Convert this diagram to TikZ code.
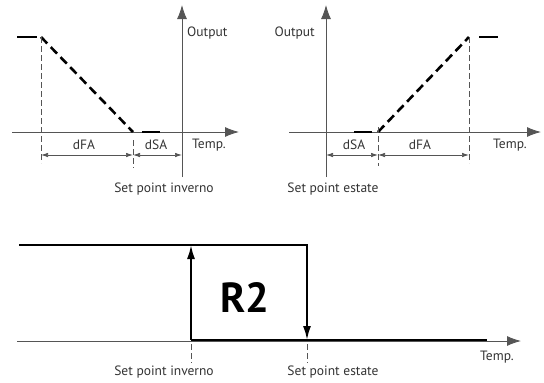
\documentclass[tikz,border=0pt]{standalone}
\usepackage{fontspec}
\setmainfont{PT Sans}
\usetikzlibrary{arrows.meta}
\definecolor{axisgray}{HTML}{555555}
\definecolor{textgray}{HTML}{333333}

\begin{document}
\begin{tikzpicture}[x=1pt,y=-1pt,>={Latex[length=14pt,width=10pt]},
  axis/.style={axisgray,line width=0.9pt},
  curve/.style={line width=2.6pt,dash pattern=on 9pt off 5pt},
  flat/.style={line width=2.6pt},
  guide/.style={axisgray,line width=0.7pt,dash pattern=on 6pt off 3pt},
  dim/.style={axisgray,line width=0.7pt,{Latex[length=7pt,width=4.5pt]}-{Latex[length=7pt,width=4.5pt]}},
  lbl/.style={textgray,font=\fontsize{13.5}{15}\selectfont,inner sep=1pt},
  big/.style={font=\bfseries\fontsize{42}{44}\selectfont,inner sep=0pt}]
  \useasboundingbox (0,0) rectangle (544,383);

  % winter chart
  \coordinate (wy0) at (182,177); \coordinate (wy1) at (182,5);
  \coordinate (wx0) at (12,132);  \coordinate (wx1) at (239,132);
  \coordinate (wtop) at (41,37);  \coordinate (wlow) at (133,132);
  \draw[axis,->] (wy0) -- (wy1);
  \draw[axis,->] (wx0) -- (wx1);
  \draw[flat] (17,37) -- (37,37);
  \draw[curve] (wtop) -- (wlow);
  \draw[flat] (142,132) -- (160,132);
  \draw[guide] (wtop) -- (41,163);
  \draw[guide] (133,140) -- (133,168);
  \draw[dim] (41,155) -- (133,155);
  \draw[dim] (133,155) -- (182,155);
  \node[lbl,anchor=west] (wout) at (186,33) {Output};
  \node[lbl] (wdfa) at (84,145) {dFA};
  \node[lbl] (wdsa) at (156,145) {dSA};
  \node[lbl] (wtemp) at (209,145) {Temp.};
  \node[lbl] (wsp) at (164,189) {Set point inverno};

  % summer chart
  \coordinate (sy0) at (326,177); \coordinate (sy1) at (326,5);
  \coordinate (sx0) at (289,132); \coordinate (sx1) at (541,132);
  \coordinate (slow) at (378,132); \coordinate (stop) at (469,37);
  \draw[axis,->] (sy0) -- (sy1);
  \draw[axis,->] (sx0) -- (sx1);
  \draw[flat] (354,132) -- (372,132);
  \draw[curve] (slow) -- (stop);
  \draw[flat] (479,37) -- (498,37);
  \draw[guide] (stop) -- (469,163);
  \draw[guide] (378,127) -- (378,166);
  \draw[dim] (326,155) -- (378,155);
  \draw[dim] (378,155) -- (469,155);
  \node[lbl,anchor=east] (sout) at (316,33) {Output};
  \node[lbl] (sdsa) at (354,145) {dSA};
  \node[lbl] (sdfa) at (420,145) {dFA};
  \node[lbl] (stemp) at (510,145) {Temp.};
  \node[lbl] (ssp) at (333,189) {Set point estate};

  % relay R2
  \coordinate (rx0) at (17,341);  \coordinate (rx1) at (521,341);
  \coordinate (ron) at (191,340); \coordinate (roff) at (307,340);
  \coordinate (rhi) at (191,245); \coordinate (rfall) at (307,245);
  \draw[axis,->] (rx0) -- (rx1);
  \draw[flat,line cap=rect] (20,245) -- (rfall);
  \draw[flat,line width=2pt] (ron) -- (487,340);
  \draw[flat,line width=2pt,-{Latex[length=14pt,width=8pt]}] (ron) -- (rhi);
  \draw[flat,line width=2pt,-{Latex[length=14pt,width=8pt]}] (rfall) -- (roff);
  \draw[guide] (191,344) -- (191,363);
  \draw[guide] (307,344) -- (307,363);
  \node[big] (r2) at (245,298) {R2};
  \node[lbl] (rtemp) at (497,357) {Temp.};
  \node[lbl] (rspw) at (164,372) {Set point inverno};
  \node[lbl] (rsps) at (333,372) {Set point estate};
\end{tikzpicture}
\end{document}
